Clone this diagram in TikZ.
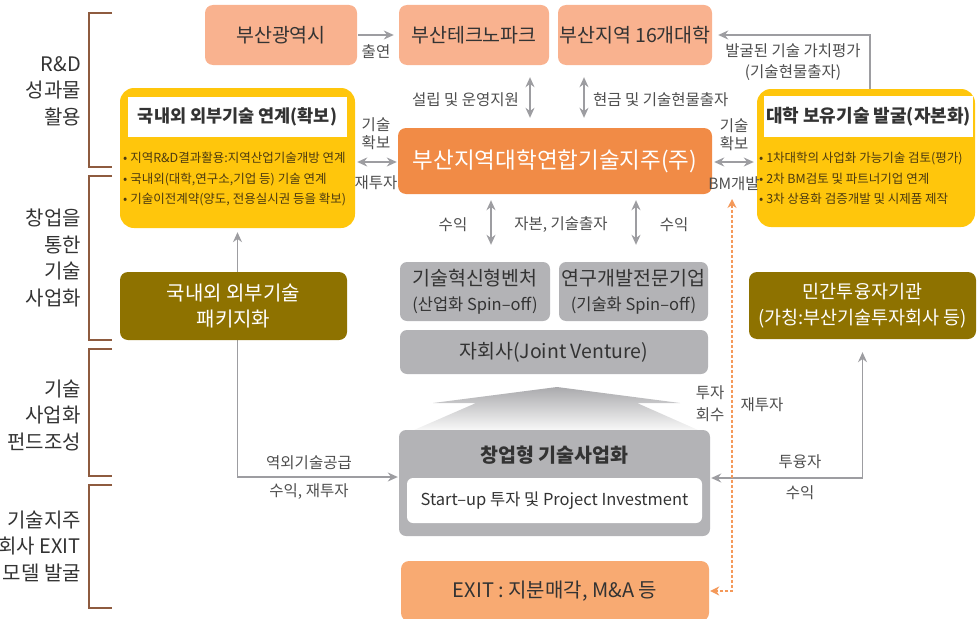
\documentclass[tikz,border=0pt]{standalone}
\usepackage{fontspec}
\setmainfont{Noto Sans CJK KR}
\usepackage{tikz}
\usetikzlibrary{arrows.meta, positioning, calc, backgrounds}
\definecolor{salmon}{HTML}{F9B28F}
\definecolor{holdorange}{HTML}{F18B46}
\definecolor{gold}{HTML}{FFC60C}
\definecolor{olive}{HTML}{8E7200}
\definecolor{boxgray}{HTML}{B3B3B6}
\definecolor{exitorange}{HTML}{F8AA72}
\definecolor{bracebrown}{HTML}{8E5B3F}
\definecolor{arrgray}{HTML}{9D9DA1}
\definecolor{dashorange}{HTML}{F4995A}
\definecolor{darktext}{HTML}{333333}
\definecolor{labeltext}{HTML}{4E4E4E}
\definecolor{bullettext}{HTML}{4D3B10}

\begin{document}
\begin{tikzpicture}[x=1pt, y=-1pt,
  every node/.style={font=\fontsize{15.5}{18}\selectfont, text=labeltext, inner sep=0pt},
  topbox/.style={fill=salmon, rounded corners=8pt, minimum width=150pt, minimum height=60pt, text=darktext, font=\fontsize{19.5}{22}\selectfont},
  graybox/.style={fill=boxgray, rounded corners=7pt, text=darktext, align=center, font=\fontsize{19.5}{25}\selectfont},
  olivebox/.style={fill=olive, rounded corners=8pt, minimum width=227pt, text=white, align=center, font=\fontsize{20}{26}\selectfont},
  yellowbox/.style={fill=gold, rounded corners=14pt},
  titlebox/.style={fill=white, text=darktext, font=\bfseries\fontsize{17.5}{20}\selectfont},
  bullets/.style={align=left, text=bullettext, font=\fontsize{12.5}{20.5}\selectfont},
  sidelabel/.style={align=right, anchor=east, text=darktext, font=\fontsize{20}{26.5}\selectfont},
  brace/.style={draw=bracebrown, line width=2.5pt},
  arr/.style={-{Stealth[length=10pt,width=9pt]}, arrgray, line width=1.3pt},
  dbl/.style={{Stealth[length=10pt,width=9pt]}-{Stealth[length=10pt,width=9pt]}, arrgray, line width=1.3pt},
  dsh/.style={{Stealth[length=9pt,width=9pt]}-{Stealth[length=9pt,width=9pt]}, dashorange, line width=1.2pt, dash pattern=on 3pt off 2pt}]
  \useasboundingbox (0,0) rectangle (979,618);

  \draw[brace] (112,13) -| (89,167) -- (112,167);
  \draw[brace] (112,176) -| (89,340) -- (112,340);
  \draw[brace] (112,349) -| (89,476) -- (112,476);
  \draw[brace] (112,485) -| (89,608) -- (112,608);
  \node[sidelabel] (side1) at (81,91) {R\&D\\성과물\\활용};
  \node[sidelabel] (side2) at (81,258) {창업을\\통한\\기술\\사업화};
  \node[sidelabel] (side3) at (81,415) {기술\\사업화\\펀드조성};
  \node[sidelabel] (side4) at (81,546) {기술지주\\회사 EXIT\\모델 발굴};

  \node[topbox, minimum width=152pt] (city) at (281,35) {부산광역시};
  \node[topbox] (techno) at (474,35) {부산테크노파크};
  \node[topbox, minimum width=154pt] (univ) at (635,35) {부산지역 16개대학};
  \node[fill=holdorange, rounded corners=8pt, minimum width=314pt, minimum height=66pt, text=white, font=\fontsize{22.5}{26}\selectfont] (hold) at (555,161) {부산지역대학연합기술지주(주)};

  \node[yellowbox, minimum width=235pt, minimum height=140pt] (lbox) at (237.5,158) {};
  \node[titlebox, minimum width=219pt, minimum height=40pt] (ltitle) at (237.5,117) {국내외 외부기술 연계(확보)};
  \node[bullets, anchor=north west] (lbul) at (123,152) {• 지역R\&D결과활용:지역산업기술개방 연계\\• 국내외(대학,연구소,기업 등) 기술 연계\\• 기술이전계약(양도, 전용실시권 등을 확보)};
  \node[yellowbox, minimum width=218pt, minimum height=138pt] (rbox) at (866,158) {};
  \node[titlebox, minimum width=209pt, minimum height=41pt, font=\bfseries\fontsize{18}{20}\selectfont] (rtitle) at (868.5,116.5) {대학 보유기술 발굴(자본화)};
  \node[bullets, anchor=north west] (rbul) at (759,152) {• 1차대학의 사업화 가능기술 검토(평가)\\• 2차 BM검토 및 파트너기업 연계\\• 3차 상용화 검증개발 및 시제품 제작};

  \node[graybox, minimum width=150pt, minimum height=59pt] (venture) at (475,291.5) {기술혁신형벤처\\{\fontsize{16.5}{25}\selectfont (산업화 Spin–off)}};
  \node[graybox, minimum width=149pt, minimum height=59pt] (rnd) at (633.5,291.5) {연구개발전문기업\\{\fontsize{16.5}{25}\selectfont (기술화 Spin–off)}};
  \node[graybox, minimum width=308pt, minimum height=44pt] (jv) at (554,352) {자회사(Joint Venture)};
  \node[olivebox, minimum height=68pt] (pkg) at (233.5,306) {국내외 외부기술\\패키지화};
  \node[olivebox, minimum height=67pt, font=\fontsize{18.5}{26}\selectfont] (fund) at (862.5,305.5) {민간투융자기관\\(가칭:부산기술투자회사 등)};

  \shade[top color=boxgray!95!black, middle color=boxgray!80!white, bottom color=white!94!gray] (414,430) -- (476,403) -- (433,403) -- (557,387) -- (680,403) -- (637,403) -- (698,430) -- cycle;
  \node[graybox, minimum width=311pt, minimum height=106pt] (startup) at (554.5,483) {};
  \node[text=darktext, font=\bfseries\fontsize{19.5}{22}\selectfont] (sutitle) at (554.5,455) {창업형 기술사업화};
  \node[fill=white, rounded corners=6pt, minimum width=295pt, minimum height=45pt, text=darktext, font=\fontsize{16.5}{20}\selectfont] (suinner) at (554.5,500.5) {Start–up 투자 및 Project Investment};
  \node[fill=exitorange, rounded corners=8pt, minimum width=308pt, minimum height=60pt, text=darktext, font=\fontsize{20}{22}\selectfont] (exit) at (555,591) {EXIT : 지분매각, M\&A 등};
  \coordinate (bmtop) at (732,199);

  \begin{scope}[on background layer]
    \draw[arr, shorten <=1pt, shorten >=5pt] (city) -- (techno);
    \draw[dbl, shorten <=12pt, shorten >=10pt] ([xshift=56pt]techno.south) -- ([xshift=56pt]techno.south |- hold.north);
    \draw[dbl, shorten <=12pt, shorten >=10pt] ([xshift=-51pt]univ.south) -- ([xshift=-51pt]univ.south |- hold.north);
    \draw[arr, shorten >=6pt] ([xshift=4pt]rbox.north) |- (univ.east);
    \draw[dbl, shorten <=2pt, shorten >=1pt] ([yshift=-4pt]lbox.east) -- ([yshift=-4pt]lbox.east -| hold.west);
    \draw[dbl, shorten <=2pt, shorten >=3pt] ([yshift=-1pt]hold.east) -- ([yshift=-1pt]hold.east -| rbox.west);
    \draw[dbl, shorten <=6pt, shorten >=17pt] ([xshift=-64pt]hold.south) -- ([xshift=-64pt]hold.south |- venture.north);
    \draw[dbl, shorten <=6pt, shorten >=17pt] ([xshift=81pt]hold.south) -- ([xshift=81pt]hold.south |- venture.north);
    \draw[dbl, shorten <=4pt, shorten >=1pt] (lbox.south) |- ([yshift=6pt]startup.west);
    \draw[dbl, shorten <=13pt, shorten >=1pt] (fund.south) |- ([yshift=5pt]startup.east);
    \draw[dsh, shorten >=1pt] (bmtop) |- (exit.east);
  \end{scope}

  \node (lblout) at (376,52) {출연};
  \node[anchor=east] (lblsetup) at (519,100) {설립 및 운영지원};
  \node[anchor=west] (lblcash) at (593,100) {현금 및 기술현물출자};
  \node[align=center, font=\fontsize{15.5}{20.5}\selectfont] (lbleval) at (793,62) {발굴된 기술 가치평가\\(기술현물출자)};
  \node[align=center] (lblsecl) at (376,134) {기술\\확보};
  \node (lblrel) at (376,183) {재투자};
  \node[align=center] (lblsecr) at (734,134.5) {기술\\확보};
  \node (lblbm) at (734,184) {BM개발};
  \node (lblret1) at (453,225) {수익};
  \node (lblcap) at (561,225) {자본, 기술출자};
  \node (lblret2) at (674,225) {수익};
  \node[align=center, font=\fontsize{15.5}{22}\selectfont] (lblinv) at (710,404) {투자\\회수};
  \node (lblrer) at (762,405) {재투자};
  \node (lblsupply) at (309,463) {역외기술공급};
  \node (lblret3) at (309,492) {수익, 재투자};
  \node (lblfin) at (800,462) {투융자};
  \node (lblret4) at (800,493) {수익};
\end{tikzpicture}
\end{document}
